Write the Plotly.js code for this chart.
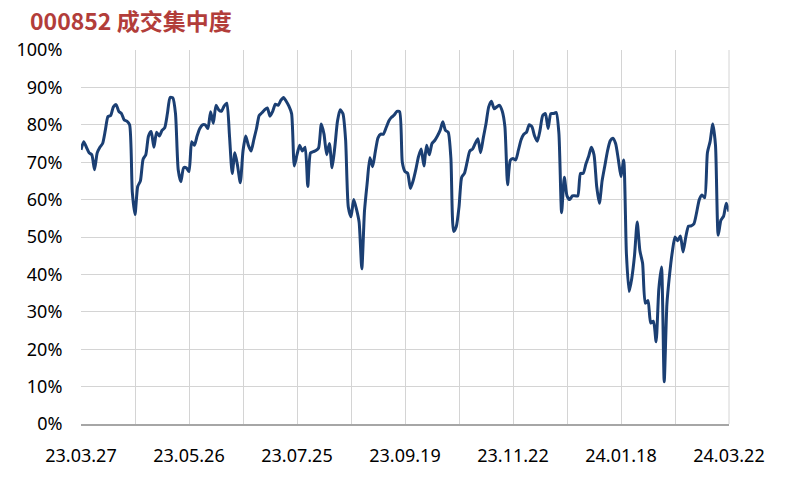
<!DOCTYPE html>
<html>
<head>
<meta charset="utf-8">
<script src="https://cdn.plot.ly/plotly-3.0.1.min.js"></script>
<style>html,body{margin:0;padding:0;background:#fff;}#chart{width:788px;height:501px;}</style>
</head>
<body>
<div id="chart"></div>
<script>
// trading-day index (0 = 23.03.27) and concentration (%)
const concentration = [
73.3,75.5,74,72.5,72,68,72.5,74,75,78.5,
82.2,82.5,84.8,85.4,83.6,83,81.3,81,80,62,
56,63.5,65,70.8,72,77,78.2,74,78,77,
78.5,79.2,83,87.3,87.2,83,68,64.8,68.5,68.5,
67.5,75.5,74.5,77,79,80,80,79,83.5,80.4,
85.2,84,83.6,85,85.8,77,67,72.5,69,64.5,
73,77,74.5,73,76,79,82.5,83.2,84,84.5,
82.3,83.6,85.5,85.2,86.5,87.3,86.3,85,83,69,
72,74.5,73,74,63.5,72.5,72.8,73.1,73.8,80.2,
77.5,72,75,68.5,74,81,84,83,76,58,
55.4,60,57.5,54,41.5,57,64.5,71.2,68.8,72.8,
76.5,77.5,77.5,79.2,81,82,82.6,83.6,83.5,70,
67.5,67,63,65,68,71.5,73.5,69,74.5,72,
75,75.8,77,78.5,80.8,78.5,78,71,51.5,52.8,
58,66,67,70,73,73.5,75,76.3,72.5,76.5,
80.3,84.8,86.3,84.3,84.8,85.2,83.7,79.5,64,70.5,
71,70.6,73.2,76,77.5,78,80,79.5,77,75.6,
78.5,82.5,83,79,83,83,83.3,77.7,56.5,66,
61,60,61,61,61,67,67,69.5,71.5,74,
72,63.5,59,65,69,73,75.7,76.4,75,70.8,
66.1,70.6,45.6,35.4,39,45,54,46.3,43,32.3,
33,27,27.5,22,36,42,11.3,32,40,46,
50,49,50.3,46,50,52.9,53,53.5,56.5,60,
61.2,60.5,72.5,75.5,80.2,74.5,50.5,54.5,55.6,59,
56.8
];
const dayIndex = concentration.map((_, i) => i);
const tickDays = [0,20,40,60,80,100,120,140,160,180,200,220,240];
const tickLabels = ['23.03.27','','23.05.26','','23.07.25','','23.09.19','','23.11.22','','24.01.18','','24.03.22'];
const titleText = '000852 成交集中度';

const trace = {
  x: dayIndex,
  y: concentration,
  type: 'scatter',
  mode: 'lines',
  line: {color: '#1B3F73', width: 3, shape: 'spline', smoothing: 0.6},
  hoverinfo: 'skip'
};

const layout = {
  width: 788, height: 501,
  margin: {l: 81, r: 59, t: 50, b: 77, pad: 0},
  paper_bgcolor: '#ffffff', plot_bgcolor: '#ffffff',
  showlegend: false,
  font: {family: 'Noto Sans, Noto Sans CJK SC, sans-serif', color: '#000000', size: 17},
  title: {
    text: '<b>' + titleText + '</b>',
    font: {family: 'Noto Sans CJK SC, Noto Sans, sans-serif', size: 23, color: '#B23D3A'},
    xref: 'container', yref: 'container',
    x: 30/788, xanchor: 'left',
    y: 1 - 22/501, yanchor: 'middle'
  },
  xaxis: {
    range: [0, 240],
    tickmode: 'array', tickvals: tickDays, ticktext: tickLabels,
    showgrid: true, gridcolor: '#d4d4d4', gridwidth: 1,
    zeroline: false,
    showline: true, linecolor: '#a6a6a6', linewidth: 1.5,
    ticks: 'outside', ticklen: 15, tickcolor: 'rgba(0,0,0,0)',
    tickfont: {size: 18, color: '#000000'}
  },
  yaxis: {
    range: [0, 100],
    tick0: 0, dtick: 10, ticksuffix: '%',
    showgrid: true, gridcolor: '#d4d4d4', gridwidth: 1,
    zeroline: false, showline: false,
    ticks: 'outside', ticklen: 14, tickcolor: 'rgba(0,0,0,0)',
    tickfont: {size: 18, color: '#000000'}
  },
  shapes: [
    {type: 'line', xref: 'paper', yref: 'paper', x0: 1, x1: 1, y0: 0, y1: 1, line: {color: '#d4d4d4', width: 1}}
  ]
};

Plotly.newPlot('chart', [trace], layout, {displayModeBar: false, staticPlot: true});
</script>
</body>
</html>
